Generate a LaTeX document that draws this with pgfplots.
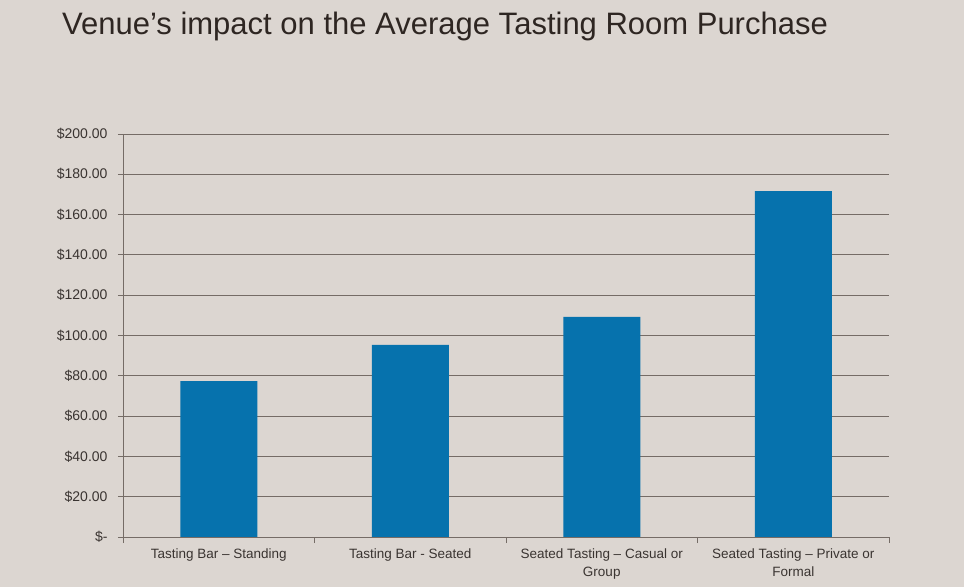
\documentclass[border=0pt]{standalone}
\usepackage{pgfplots}
\pgfplotsset{compat=1.18}
\usepackage{fontspec}
\setmainfont{Liberation Sans}
\definecolor{bgcol}{HTML}{DCD6D1}
\definecolor{titlecol}{HTML}{2E2622}
\definecolor{labcol}{HTML}{3A3431}
\definecolor{gridcol}{HTML}{756C66}
\definecolor{barcol}{HTML}{0672AD}
\begin{document}
\begin{tikzpicture}
\fill[bgcol] (0bp,0bp) rectangle (964bp,587bp);
\node[anchor=base west, inner sep=0, text=titlecol, font=\fontsize{31bp}{36bp}\selectfont] at (62bp,552bp) {Venue’s impact on the Average Tasting Room Purchase};
\begin{axis}[
  at={(123bp,50bp)}, anchor=south west,
  scale only axis, width=766bp, height=403bp,
  xmin=-0.5, xmax=3.5, ymin=0, ymax=200,
  axis x line=bottom, axis y line=left,
  axis line style={gridcol, line width=0.8pt, -},
  ytick={0,20,...,200},
  yticklabels={\$-,\$20.00,\$40.00,\$60.00,\$80.00,\$100.00,\$120.00,\$140.00,\$160.00,\$180.00,\$200.00},
  ymajorgrids, grid style={gridcol, line width=0.8pt},
  xtick={0,1,2,3},
  xticklabels={Tasting Bar – Standing, Tasting Bar - Seated, {Seated Tasting – Casual or\\Group}, {Seated Tasting – Private or\\Formal}},
  minor xtick={-0.5,0.5,1.5,2.5,3.5},
  tick align=outside,
  major tick length=5bp, minor tick length=6bp,
  major x tick style={draw=none},
  tick style={gridcol, line width=0.8pt},
  yticklabel style={font=\fontsize{14bp}{16bp}\selectfont, text=labcol, xshift=-7bp},
  xticklabel style={font=\fontsize{13.5bp}{18bp}\selectfont, text=labcol, align=center, yshift=-3bp},
  ybar, bar width=77bp,
]
\addplot[fill=barcol, draw=none] coordinates {(0,77.4) (1,95.3) (2,109.2) (3,171.7)};
\end{axis}
\end{tikzpicture}
\end{document}
